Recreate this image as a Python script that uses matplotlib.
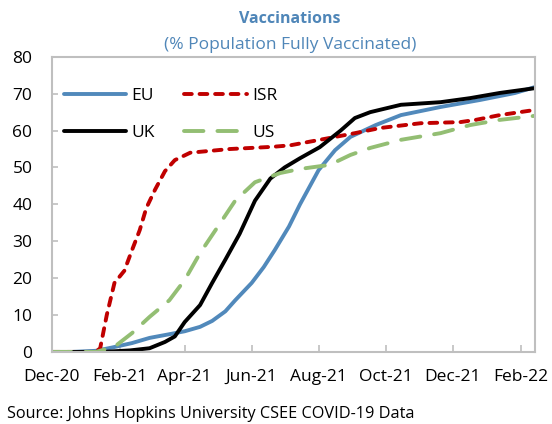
import pandas as pd
import matplotlib
matplotlib.use("Agg")
import matplotlib.pyplot as plt
import matplotlib.dates as mdates

plt.rcParams["font.family"] = ["Open Sans", "DejaVu Sans"]

# values (% of population fully vaccinated)
eu_dates = ["2020-12-20", "2021-01-10", "2021-01-25", "2021-02-12", "2021-02-28", "2021-03-18",
            "2021-04-01", "2021-04-15", "2021-04-26", "2021-05-08", "2021-05-17", "2021-06-01",
            "2021-06-12", "2021-06-22", "2021-07-05", "2021-07-15", "2021-08-01", "2021-08-16",
            "2021-08-30", "2021-09-22", "2021-10-15", "2021-11-20", "2021-12-26", "2022-01-27",
            "2022-02-14"]
eu_vals = [0, 0.3, 1.2, 2.4, 3.8, 4.8, 5.6, 6.8, 8.4, 11, 14, 18.7, 23, 27.6, 34, 40,
           49.3, 54.7, 58.3, 61.5, 64.2, 66.4, 68.3, 70.2, 71.8]

isr_dates = ["2020-12-01", "2021-01-10", "2021-01-14", "2021-01-20", "2021-01-27", "2021-02-05",
             "2021-02-12", "2021-02-19", "2021-02-25", "2021-03-05", "2021-03-14", "2021-03-23",
             "2021-04-06", "2021-05-12", "2021-06-20", "2021-07-06", "2021-08-11", "2021-09-03",
             "2021-09-26", "2021-11-02", "2021-12-08", "2021-12-22", "2022-01-13", "2022-02-14"]
isr_vals = [0, 0, 1, 10, 18.7, 22, 27.6, 33, 39, 44, 49, 52, 54, 55, 55.6, 56, 58,
            59.3, 60.7, 62, 62.3, 62.9, 64.2, 65.6]

uk_dates = ["2020-12-01", "2021-01-15", "2021-02-10", "2021-02-28", "2021-03-14", "2021-03-23",
            "2021-04-01", "2021-04-15", "2021-04-26", "2021-05-08", "2021-05-21", "2021-06-04",
            "2021-06-18", "2021-07-01", "2021-07-15", "2021-08-02", "2021-08-21", "2021-09-03",
            "2021-09-17", "2021-10-15", "2021-11-20", "2021-12-17", "2022-01-13", "2022-02-14"]
uk_vals = [0, 0, 0.4, 1, 2.7, 4.2, 8.1, 12.7, 18.7, 25, 32, 41, 47, 50, 52.5, 55.5, 60,
           63.4, 65, 67, 67.7, 68.8, 70.2, 71.5]

us_dates = ["2020-12-01", "2021-01-10", "2021-01-27", "2021-02-12", "2021-02-28", "2021-03-18",
            "2021-04-01", "2021-04-15", "2021-04-29", "2021-05-17", "2021-06-04", "2021-06-27",
            "2021-07-15", "2021-08-11", "2021-08-30", "2021-09-17", "2021-10-15", "2021-11-20",
            "2021-12-17", "2022-01-13", "2022-02-14"]
us_vals = [0, 0, 1.4, 5.1, 9.5, 14, 19.5, 26.8, 33, 41, 46, 48.5, 49.6, 50.7, 53.4, 55.3,
           57.5, 59.3, 61.5, 62.9, 64]

tick_dates = ["2020-12-01", "2021-02-01", "2021-04-01", "2021-06-01", "2021-08-01",
              "2021-10-01", "2021-12-01", "2022-02-01"]

fig = plt.figure(figsize=(5.52, 4.24), dpi=100)
ax = fig.add_axes([0.094, 0.170, 0.875, 0.696])

lw = 2.8
style = dict(lw=lw, solid_capstyle="round", dash_capstyle="round")
l_eu, = ax.plot(pd.to_datetime(eu_dates), eu_vals, color="#5189BB", label="EU", **style)
l_isr, = ax.plot(pd.to_datetime(isr_dates), isr_vals, color="#C00000",
                 dashes=(2.0, 2.0), label="ISR", **style)
l_uk, = ax.plot(pd.to_datetime(uk_dates), uk_vals, color="black", label="UK", **style)
l_us, = ax.plot(pd.to_datetime(us_dates), us_vals, color="#93BE73",
                dashes=(5.0, 3.6), label="US", **style)

ax.set_xlim(pd.Timestamp("2020-12-01"), pd.Timestamp("2022-02-14"))
ax.set_ylim(0, 80)
ax.set_yticks(range(0, 81, 10))
ax.set_xticks(pd.to_datetime(tick_dates))
ax.xaxis.set_major_formatter(mdates.DateFormatter("%b-%y"))
ax.tick_params(axis="x", direction="in", length=5, color="#BFBFBF", width=1.2,
               labelsize=12.5, pad=12)
ax.tick_params(axis="y", direction="in", length=4, color="#BFBFBF", width=1.2,
               labelsize=12.5, pad=14)
for s in ax.spines.values():
    s.set_color("#BFBFBF")
    s.set_linewidth(1.5)

# row-major legend: EU, ISR / UK, US
ax.legend([l_eu, l_uk, l_isr, l_us], ["EU", "UK", "ISR", "US"],
          loc="upper left", bbox_to_anchor=(0.01, 0.918), ncol=2, frameon=False,
          fontsize=12.5, handlelength=3.6, handletextpad=0.3, columnspacing=1.7,
          labelspacing=1.2, borderaxespad=0)

fig.text(0.525, 0.945, "Vaccinations", ha="center", fontsize=11.5, fontweight="bold",
         color="#4F86B8")
fig.text(0.525, 0.885, "(% Population Fully Vaccinated)", ha="center", fontsize=12.5,
         color="#4F86B8")
fig.text(0.013, 0.015, "Source: Johns Hopkins University CSEE COVID-19 Data", fontsize=11.7)

fig.savefig("out.png", dpi=100)
